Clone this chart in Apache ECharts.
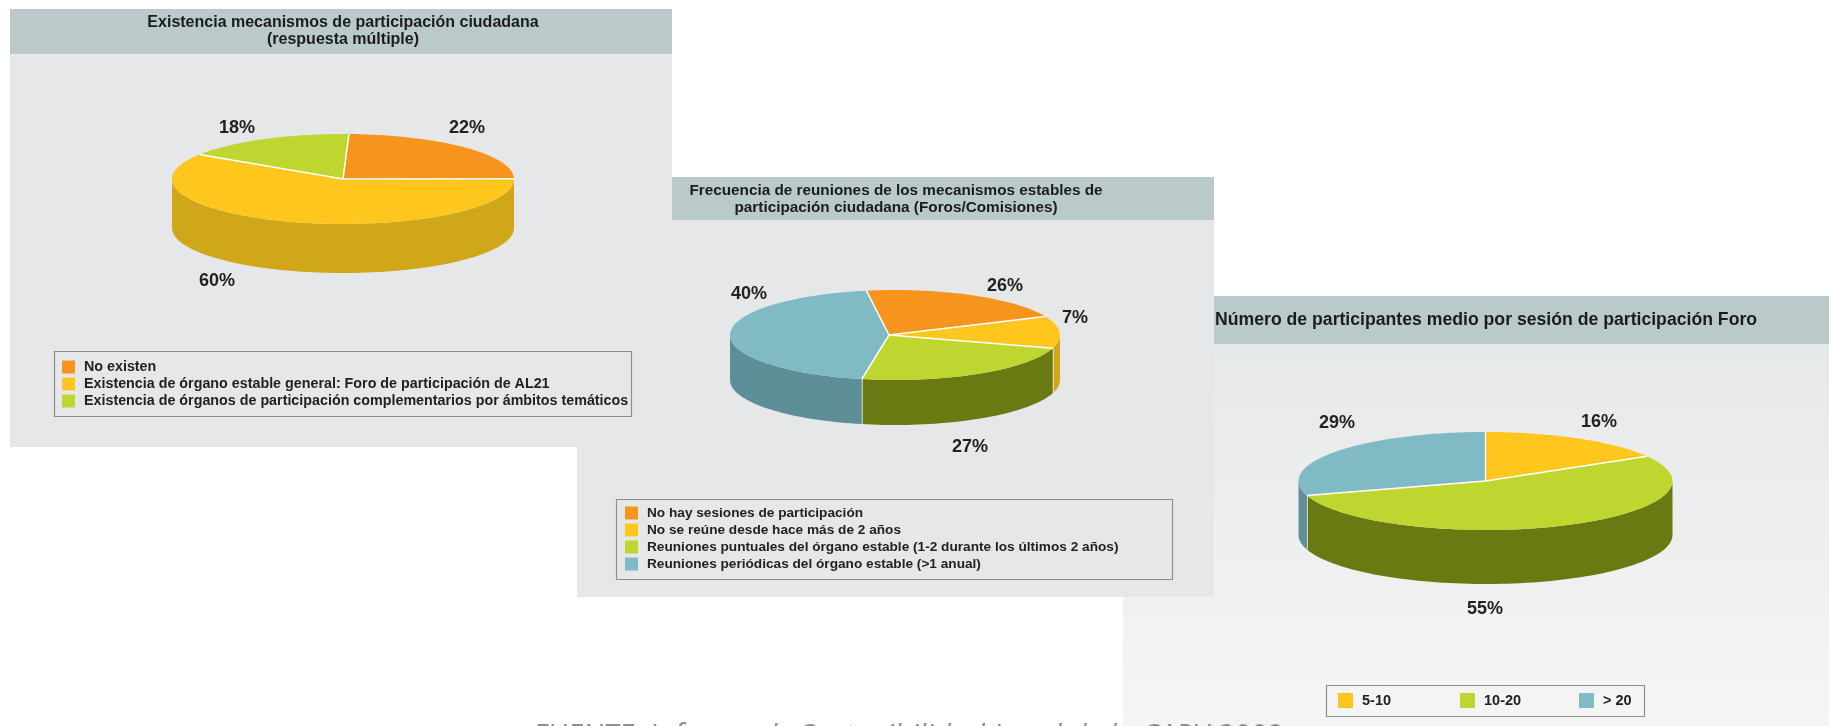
<!DOCTYPE html>
<html>
<head>
<meta charset="utf-8">
<style>
  html,body{margin:0;padding:0;background:#fff;}
  #main{width:1829px;height:726px;}
</style>
<script src="https://cdn.jsdelivr.net/npm/echarts@6/dist/echarts.min.js"></script>
</head>
<body>
<div id="main"></div>
<script>
const FONT = '"Liberation Sans",sans-serif';

// pie 1
const categories1 = ['No existen','Existencia de órgano estable general: Foro de participación de AL21','Existencia de órganos de participación complementarios por ámbitos temáticos'];
const printed1 = [22,60,18];
const arcs1 = [24.4,59.2,16.4];

// pie 2
const categories2 = ['No hay sesiones de participación','No se reúne desde hace más de 2 años','Reuniones puntuales del órgano estable (1-2 durante los últimos 2 años)','Reuniones periódicas del órgano estable (>1 anual)'];
const printed2 = [26,7,27,40];
const arcs2 = [21,11.5,23.5,44];

// pie 3
const categories3 = ['5-10','10-20','> 20'];
const printed3 = [16,55,29];
const arcs3 = [16.6,53.6,29.8];

const ORANGE = ['#f7941e','#c9781a'];
const YELLOW = ['#ffc61e','#cfa719'];
const GREEN = ['#bed62f','#6a7a12'];
const BLUE = ['#7fbac5','#5e8e97'];

const pies = [
  {names:categories1, printed:printed1, arcs:arcs1, colors:[ORANGE,YELLOW,GREEN], start:88,
   cx:343, cy:179, rx:171, ry:45, depth:49, apexDx:0,
   labels:[[467,128],[217,281],[237,128]]},
  {names:categories2, printed:printed2, arcs:arcs2, colors:[ORANGE,YELLOW,GREEN,BLUE], start:100,
   cx:895, cy:335, rx:165, ry:45, depth:45, apexDx:-6,
   labels:[[1005,286],[1075,318],[970,447],[749,294]]},
  {names:categories3, printed:printed3, arcs:arcs3, colors:[YELLOW,GREEN,BLUE], start:90,
   cx:1485.5, cy:481, rx:187, ry:49, depth:54, apexDx:0,
   labels:[[1599,422],[1485,609],[1337,423]]}
];

function rim(p, deg, dy){
  const r = deg*Math.PI/180;
  return [p.cx+p.rx*Math.cos(r), p.cy-p.ry*Math.sin(r)+(dy||0)];
}
function rimArc(p, from, to, dy){
  const pts = [], n = Math.max(2,Math.ceil(Math.abs(from-to)/2));
  for(let i=0;i<=n;i++) pts.push(rim(p, from+(to-from)*i/n, dy));
  return pts;
}

function makeRender(p, idx){
  return function(params, api){
    const a0 = api.value(0), a1 = api.value(1);
    const apex = [p.cx+p.apexDx, p.cy];
    const kids = [];
    // side wall, only the part of the arc on the front half
    const hi = Math.min(a0,0), lo = Math.max(a1,-180);
    if(hi>lo){
      const pts = rimArc(p,hi,lo,0).concat(rimArc(p,lo,hi,p.depth));
      kids.push({type:'polygon',shape:{points:pts},style:{fill:p.colors[idx][1]}});
      if(lo>-180){
        const t = rim(p,lo,0);
        kids.push({type:'line',shape:{x1:t[0],y1:t[1],x2:t[0],y2:t[1]+p.depth},style:{stroke:'#fff',lineWidth:1.5}});
      }
    }
    // top face
    kids.push({type:'polygon',shape:{points:[apex].concat(rimArc(p,a0,a1,0))},style:{fill:p.colors[idx][0]}});
    const e = rim(p,a0,0);
    kids.push({type:'line',shape:{x1:apex[0],y1:apex[1],x2:e[0],y2:e[1]},style:{stroke:'#fff',lineWidth:1.5},z2:5});
    const l = p.labels[idx];
    kids.push({type:'text',x:l[0],y:l[1],style:{text:p.printed[idx]+'%',font:'bold 18px '+FONT,fill:'#222',align:'center',verticalAlign:'middle'},z2:6});
    return {type:'group',children:kids};
  };
}

const series = [];
pies.forEach(function(p){
  let a = p.start;
  p.arcs.forEach(function(share,i){
    const b = a-share*3.6;
    series.push({
      type:'custom', coordinateSystem:'none', name:p.names[i],
      itemStyle:{color:p.colors[i][0]},
      renderItem:makeRender(p,i),
      data:[[a,b]], silent:true, animation:false
    });
    a = b;
  });
});

function panel(x,y,w,h,headH,bodyFill,z){
  return [
    {type:'rect',z:z,shape:{x:x,y:y,width:w,height:h},style:{fill:bodyFill}},
    {type:'rect',z:z,shape:{x:x,y:y,width:w,height:headH},style:{fill:'#bacaca'}}
  ];
}
function title(x,y,txt,size,align,z){
  return {type:'text',z:z,x:x,y:y,style:{text:txt,font:'bold '+size+'px '+FONT,fill:'#1c1c1c',align:align,verticalAlign:'middle'}};
}
function box(x,y,w,h,z){
  return {type:'rect',z:z,shape:{x:x+.5,y:y+.5,width:w,height:h},style:{fill:'none',stroke:'#8b8f8d',lineWidth:1.2}};
}

const graphics = [].concat(
  panel(1123,296,706,430,48,{type:'linear',x:0,y:0,x2:0,y2:1,colorStops:[{offset:0,color:'#e4e7e8'},{offset:1,color:'#f5f5f5'}]},0),
  panel(577,177,637,420,43,'#e6e7e9',0),
  panel(10,9,662,438,45,'#e6e7e9',0),
  [
    title(343,23,'Existencia mecanismos de participación ciudadana',16,'center',1),
    title(343,40,'(respuesta múltiple)',16,'center',1),
    title(896,190.5,'Frecuencia de reuniones de los mecanismos estables de',15.3,'center',1),
    title(896,208,'participación ciudadana (Foros/Comisiones)',15.3,'center',1),
    title(1215,320,'Número de participantes medio por sesión de participación Foro',17.65,'left',1),
    box(54,351,577,65,1),
    box(616,499,556,80,1),
    box(1326,685,318,31,1),
    {type:'text',z:1,x:532,y:737,style:{text:'FUENTE: Informe de Sostenibilidad Local de la CAPV 2009',font:'italic 29.8px "Open Sans",sans-serif',fill:'#8f8f8f',align:'left',verticalAlign:'middle'}}
  ]
);

const legendBase = {selectedMode:false, icon:'rect', itemWidth:13, itemHeight:13, padding:0};
function legendText(size){
  return {fontFamily:FONT,fontWeight:'bold',fontSize:size,color:'#222',padding:[0,0,0,4]};
}

const option = {
  animation:false,
  backgroundColor:'#fff',
  graphic:{elements:graphics},
  legend:[
    Object.assign({},legendBase,{data:categories1,orient:'vertical',left:62,top:360,itemGap:3,textStyle:legendText(14.3)}),
    Object.assign({},legendBase,{data:categories2,orient:'vertical',left:625,top:506,itemGap:3,textStyle:legendText(13.65)}),
    Object.assign({},legendBase,{data:[categories3[0]],left:1338,top:693,itemWidth:15,itemHeight:15,textStyle:legendText(14.5)}),
    Object.assign({},legendBase,{data:[categories3[1]],left:1460,top:693,itemWidth:15,itemHeight:15,textStyle:legendText(14.5)}),
    Object.assign({},legendBase,{data:[categories3[2]],left:1579,top:693,itemWidth:15,itemHeight:15,textStyle:legendText(14.5)})
  ],
  series:series
};

const chart = echarts.init(document.getElementById('main'));
chart.setOption(option);
</script>
</body>
</html>
